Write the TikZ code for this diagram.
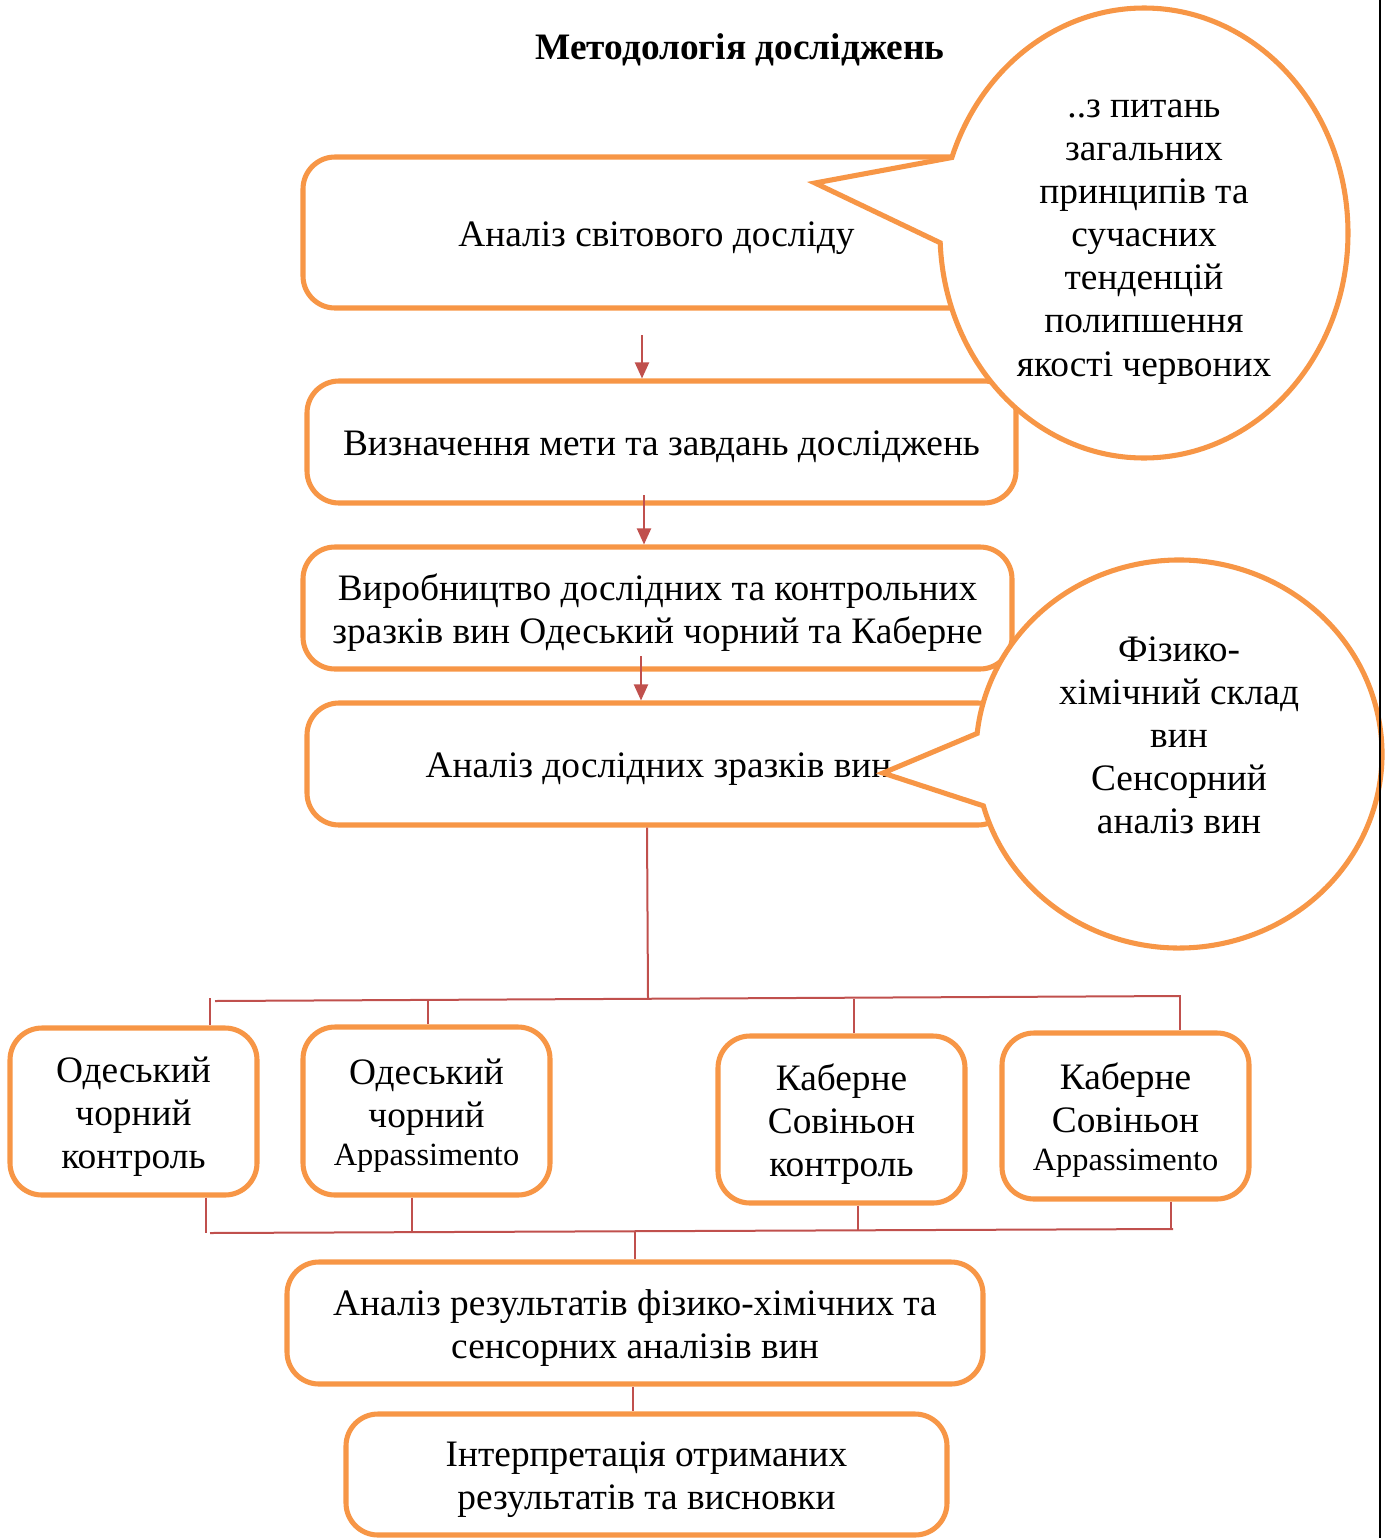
\documentclass[tikz,border=0pt]{standalone}
\usepackage{fontspec}
\setmainfont{Liberation Serif}
\usetikzlibrary{arrows.meta,calc}
\definecolor{orng}{HTML}{F79646}
\definecolor{redl}{HTML}{C0504D}
\newcommand\mainfs{\fontsize{28}{32.3}\selectfont}
\newcommand\smallfs{\fontsize{24.3}{28}\selectfont}
\newcommand\bt[1]{\raisebox{-3.75pt}[\height][\depth]{\begin{tabular}{@{}c@{}}#1\end{tabular}}}
\begin{document}
\begin{tikzpicture}[x=0.75pt,y=0.75pt,
  box/.style={draw=orng, line width=3.8pt, rounded corners=24pt, fill=white, inner sep=2pt, font=\mainfs},
  bsize/.style 2 args={minimum width=#1*0.75pt, minimum height=#2*0.75pt},
  bubble/.style={draw=orng, line width=3.8pt, fill=white, line join=miter},
  btext/.style={align=center, font=\mainfs},
  conn/.style={draw=redl, line width=1.5pt},
  arr/.style={conn, -{Triangle[width=10.5pt,length=12pt]}},
]
\useasboundingbox (0,0) rectangle (1395,-1538);

\node[font=\bfseries\mainfs] (title) at (740,-50) {Методологія досліджень};

\node[box, bsize={707}{151}] (b1) at (656.5,-232.5) {\bt{Аналіз світового досліду}};
\node[box, bsize={709}{122}] (b2) at (661.5,-442) {\bt{Визначення мети та завдань досліджень}};
\node[box, bsize={709}{122}] (b3) at (657.5,-608) {\bt{Виробництво дослідних та контрольних\\зразків вин Одеський чорний та Каберне}};
\node[box, bsize={703}{122}] (b4) at (658.5,-764) {\bt{Аналіз дослідних зразків вин}};

\node[box, bsize={247}{167}] (c1) at (133.5,-1111.5) {\bt{Одеський\\чорний\\контроль}};
\node[box, bsize={247}{168}] (c2) at (426.5,-1111) {\bt{Одеський\\чорний\\[-4pt]{\smallfs Appassimento}}};
\node[box, bsize={247}{167}] (c3) at (841.5,-1119.5) {\bt{Каберне\\Совіньон\\контроль}};
\node[box, bsize={247}{166}] (c4) at (1125.5,-1116) {\bt{Каберне\\Совіньон\\[-4pt]{\smallfs Appassimento}}};

\node[box, bsize={696}{122}] (b5) at (635,-1323) {\bt{Аналіз результатів фізико-хімічних та\\сенсорних аналізів вин}};
\node[box, bsize={601}{121}] (b6) at (646.5,-1474.5) {\bt{Інтерпретація отриманих\\результатів та висновки}};

% arrows
\draw[arr] (642,-335) -- (642,0 |- b2.north);
\draw[arr] (644,-495) -- (644,0 |- b3.north);
\draw[arr] (641,-656) -- (641,0 |- b4.north);

% tree
\coordinate (hub) at (648,-998);
\draw[conn] (647,0 |- b4.south) -- (hub);
\draw[conn] (215,-1001) -- (1180,-996);
\draw[conn] (210,-998) -- (210,0 |- c1.north);
\draw[conn] (428,-1000) -- (428,0 |- c2.north);
\draw[conn] (854,-999) -- (854,0 |- c3.north);
\draw[conn] (1180,-995) -- (1180,0 |- c4.north);

\draw[conn] (206,0 |- c1.south) -- (206,-1233);
\draw[conn] (412,0 |- c2.south) -- (412,-1232);
\draw[conn] (858,0 |- c3.south) -- (858,-1230);
\draw[conn] (1171,0 |- c4.south) -- (1171,-1229);
\draw[conn] (210,-1233) -- (1173,-1229);
\coordinate (hub2) at (635,-1232);
\draw[conn] (hub2) -- (635,0 |- b5.north);
\draw[conn] (633,0 |- b5.south) -- (633,0 |- b6.north);

% bubbles
\draw[bubble] (1144,-233) ++(160.4:204 and 225) -- (815,-183) -- ($(1144,-233)+(182.5:204 and 225)$)
  arc[start angle=182.5, end angle=520.4, x radius=204, y radius=225] -- cycle;
\node[btext] (t1) at (1144,-242) {..з питань\\загальних\\принципів та\\сучасних\\тенденцій\\полипшення\\якості червоних};

\draw[bubble] (1179,-754) ++(173.9:203 and 194) -- (883,-773) -- ($(1179,-754)+(195.5:203 and 194)$)
  arc[start angle=195.5, end angle=533.9, x radius=203, y radius=194] -- cycle;
\node[btext] (t2) at (1179,-735) {Фізико-\\хімічний склад\\вин\\Сенсорний\\аналіз вин};

\draw[line width=1.6pt] (1380,0) -- (1380,-1538);
\end{tikzpicture}
\end{document}
